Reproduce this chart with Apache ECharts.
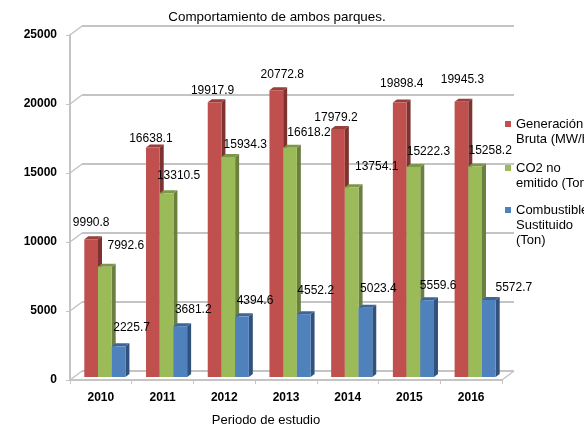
<!DOCTYPE html>
<html>
<head>
<meta charset="utf-8">
<style>
  html, body { margin: 0; padding: 0; background: #fff; overflow: hidden; }
  #chart { width: 584px; height: 428px; }
</style>
</head>
<body>
<div id="chart"></div>
<script src="https://cdn.jsdelivr.net/npm/echarts@6/dist/echarts.min.js"></script>
<script>
const years = ['2010', '2011', '2012', '2013', '2014', '2015', '2016']
const generacion = [9990.8, 16638.1, 19917.9, 20772.8, 17979.2, 19898.4, 19945.3]
const co2 = [7992.6, 13310.5, 15934.3, 16618.2, 13754.1, 15222.3, 15258.2]
const combustible = [2225.7, 3681.2, 4394.6, 4552.2, 5023.4, 5559.6, 5572.7]
const yTicks = [0, 5000, 10000, 15000, 20000, 25000]

// hand placed data labels, px from the top centre of each bar
const redLabelOffsets = [[0, -16], [-2, -9], [-2, -11], [6, -16], [-2, -11], [2, -19], [1, -22]]
const greenLabelOffsets = [[21, -21], [12, -18], [17, -12], [19, -15], [25, -21], [15, -15], [15, -16]]
const blueLabelOffsets = [[13, -19], [13, -17], [13, -16], [12, -23], [13, -19], [11, -15], [25, -12]]

const FONT = '"Liberation Sans", Arial, sans-serif'
const GRID_LINE = '#c4c4c4'
const DEPTH_X = 12, DEPTH_Y = 9 // wall offset from the front plane

function barSeries(name, values, index, colours, offsets) {
  return {
    type: 'custom',
    name: name,
    xAxisIndex: 0,
    yAxisIndex: 0,
    z: 3,
    clip: false,
    itemStyle: {color: colours.front},
    data: values.map((v, i) => [i, v]),
    renderItem: function(params, api) {
      const i = api.value(0), v = api.value(1)
      const top = api.coord([i, v])
      const base = api.coord([i, 0])
      const w = api.size([1, 0])[0] * 0.222
      const x = top[0] + 4 + (index - 1) * w - w / 2
      const yTop = top[1] - 3, yBase = base[1] - 3
      const dx = 4, dy = 3
      const off = offsets[i]
      return {
        type: 'group',
        children: [
          {type: 'polygon', shape: {points: [[x + w, yTop], [x + w + dx, yTop - dy], [x + w + dx, yBase - dy], [x + w, yBase]]}, style: {fill: colours.side}},
          {type: 'polygon', shape: {points: [[x, yTop], [x + dx, yTop - dy], [x + w + dx, yTop - dy], [x + w, yTop]]}, style: {fill: colours.top}},
          {type: 'rect', shape: {x: x, y: yTop, width: w, height: yBase - yTop}, style: {fill: colours.front}},
          {type: 'text', z2: 20, style: {
            text: v.toFixed(1),
            x: x + w / 2 + off[0],
            y: yTop + off[1],
            align: 'center',
            verticalAlign: 'middle',
            fill: '#000',
            font: '12px ' + FONT
          }}
        ]
      }
    }
  }
}

const option = {
  animation: false,
  backgroundColor: '#fff',
  textStyle: {fontFamily: FONT},
  title: {
    text: 'Comportamiento de ambos parques.',
    left: 272, top: 6,
    textAlign: 'center',
    textStyle: {fontSize: 13.4, fontWeight: 'normal', color: '#000', fontFamily: FONT}
  },
  // one legend per entry; blank lines above the name put the marker on its first line
  legend: [
    {name: 'Generación\nBruta (MW/h)', markerY: 124, lines: 2},
    {name: 'CO2 no\nemitido (Ton)', markerY: 168, lines: 2},
    {name: 'Combustible\nSustituido\n(Ton)', markerY: 210, lines: 3}
  ].map((l) => ({
    left: 505,
    top: l.markerY - (2 * l.lines - 1) * 7.5,
    padding: 0,
    icon: 'rect',
    itemWidth: 6,
    itemHeight: 6,
    itemGap: 0,
    selectedMode: false,
    data: [l.name],
    formatter: (name) => '\n'.repeat(l.lines - 1) + name,
    textStyle: {fontSize: 13, lineHeight: 15, color: '#000', fontFamily: FONT}
  })),
  grid: [
    {left: 70, top: 35, width: 432, height: 345, outerBoundsMode: 'none'},
    {left: 70 + DEPTH_X, top: 35 - DEPTH_Y, width: 432, height: 345, outerBoundsMode: 'none'}
  ],
  xAxis: [
    {
      type: 'category',
      data: years,
      name: 'Periodo de estudio',
      nameLocation: 'middle',
      nameGap: 34,
      nameTextStyle: {fontSize: 13, color: '#000', fontFamily: FONT, padding: [0, 40, 0, 0]},
      axisLine: {lineStyle: {color: GRID_LINE, width: 2}},
      axisTick: {show: true, length: 4, alignWithLabel: false, lineStyle: {color: GRID_LINE}},
      axisLabel: {fontSize: 12, fontWeight: 'bold', color: '#000', margin: 12, fontFamily: FONT}
    },
    {gridIndex: 1, type: 'category', data: years, show: false}
  ],
  yAxis: [
    {
      type: 'value',
      min: 0,
      max: 25000,
      interval: 5000,
      axisLine: {show: true, lineStyle: {color: GRID_LINE, width: 2}},
      axisTick: {show: true, length: 4, lineStyle: {color: GRID_LINE}},
      axisLabel: {
        fontSize: 12, fontWeight: 'bold', color: '#000', margin: 13, fontFamily: FONT,
        formatter: (v) => String(v),
        padding: [2, 0, 0, 0]
      },
      splitLine: {show: false}
    },
    {
      gridIndex: 1,
      type: 'value',
      min: 0,
      max: 25000,
      interval: 5000,
      axisLine: {show: false},
      axisTick: {show: false},
      axisLabel: {show: false},
      splitLine: {show: true, lineStyle: {color: GRID_LINE, width: 2}}
    }
  ],
  series: [
    {
      // the diagonals joining front axis and back wall, and the floor edge
      type: 'custom',
      name: 'paredes',
      xAxisIndex: 0,
      yAxisIndex: 0,
      z: 1,
      silent: true,
      clip: false,
      data: yTicks.map((t) => [0, t]),
      renderItem: function(params, api) {
        const p = api.coord([0, api.value(1)])
        const sys = params.coordSys
        const x = sys.x, y = p[1]
        const children = [{
          type: 'line',
          shape: {x1: x, y1: y, x2: x + DEPTH_X, y2: y - DEPTH_Y},
          style: {stroke: GRID_LINE, lineWidth: 1.5}
        }]
        if (api.value(1) === 0) {
          children.push({
            type: 'line',
            shape: {x1: x + sys.width, y1: y, x2: x + sys.width + DEPTH_X, y2: y - DEPTH_Y},
            style: {stroke: GRID_LINE, lineWidth: 1.5}
          })
        }
        return {type: 'group', children: children}
      }
    },
    barSeries('Generación\nBruta (MW/h)', generacion, 0, {front: '#c0504d', side: '#7c3331', top: '#963f3c'}, redLabelOffsets),
    barSeries('CO2 no\nemitido (Ton)', co2, 1, {front: '#9bbb59', side: '#6b8040', top: '#7c9747'}, greenLabelOffsets),
    barSeries('Combustible\nSustituido\n(Ton)', combustible, 2, {front: '#4f81bd', side: '#30527c', top: '#3d6696'}, blueLabelOffsets)
  ]
}

const myChart = echarts.init(document.getElementById('chart'), null, {renderer: 'canvas'})
myChart.setOption(option)
</script>
</body>
</html>
